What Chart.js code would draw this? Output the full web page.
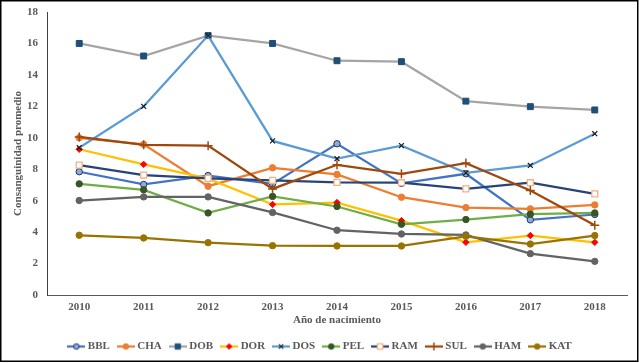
<!DOCTYPE html>
<html lang="es">
<head>
<meta charset="UTF-8">
<title>Consanguinidad promedio por año de nacimiento</title>
<script src="https://cdn.jsdelivr.net/npm/chart.js"></script>
<style>
  html, body { margin: 0; padding: 0; background: #fff; }
  #wrap { width: 639px; height: 363px; position: relative; }
</style>
</head>
<body>
<div id="wrap"><canvas id="chart" width="639" height="363"></canvas></div>
<script>
// data
const years = ['2010', '2011', '2012', '2013', '2014', '2015', '2016', '2017', '2018'];
const seriesNames = ['BBL', 'CHA', 'DOB', 'DOR', 'DOS', 'PEL', 'RAM', 'SUL', 'HAM', 'KAT'];
const bbl = [7.84, 7.03, 7.6, 7.07, 9.62, 7.1, 7.71, 4.78, 5.12];
const cha = [10.0, 9.58, 6.92, 8.09, 7.67, 6.22, 5.56, 5.48, 5.73];
const dob = [16.0, 15.2, 16.5, 16.0, 14.9, 14.84, 12.33, 11.98, 11.77];
const dor = [9.27, 8.31, 7.4, 5.76, 5.88, 4.73, 3.35, 3.78, 3.35];
const dos = [9.37, 12.0, 16.5, 9.8, 8.67, 9.5, 7.77, 8.24, 10.26];
const pel = [7.07, 6.69, 5.22, 6.27, 5.63, 4.5, 4.8, 5.14, 5.22];
const ram = [8.26, 7.63, 7.42, 7.29, 7.16, 7.14, 6.75, 7.14, 6.43];
const sul = [10.05, 9.55, 9.5, 6.75, 8.28, 7.71, 8.39, 6.65, 4.43];
const ham = [6.01, 6.24, 6.24, 5.25, 4.12, 3.88, 3.82, 2.63, 2.14];
const kat = [3.8, 3.63, 3.33, 3.14, 3.12, 3.12, 3.73, 3.24, 3.78];
const yTicks = [0, 2, 4, 6, 8, 10, 12, 14, 16, 18];

const values = [bbl, cha, dob, dor, dos, pel, ram, sul, ham, kat];

// line colour, marker style, marker fill, marker border
const styles = [
  { line: '#4472C4', shape: 'circle',   fill: '#8FAADC', edge: '#1F3864', r: 3.2, bw: 1 },
  { line: '#ED7D31', shape: 'circle',   fill: '#ED7D31', edge: '#ED7D31', r: 3.2, bw: 1 },
  { line: '#A5A5A5', shape: 'rect',     fill: '#1F4E79', edge: '#1F4E79', r: 4.2, bw: 1 },
  { line: '#FFC000', shape: 'rectRot',  fill: '#FF0000', edge: '#FF0000', r: 3.2, bw: 1 },
  { line: '#5B9BD5', shape: 'crossRot', fill: '#1A1A1A', edge: '#1A1A1A', r: 3.5, bw: 1.2 },
  { line: '#70AD47', shape: 'circle',   fill: '#375623', edge: '#375623', r: 3.2, bw: 1 },
  { line: '#264478', shape: 'rect',     fill: '#FFFFFF', edge: '#F4B183', r: 4.2, bw: 1.3 },
  { line: '#9E480E', shape: 'cross',    fill: '#9E480E', edge: '#9E480E', r: 4.5, bw: 1.5 },
  { line: '#636363', shape: 'circle',   fill: '#636363', edge: '#636363', r: 3.2, bw: 1 },
  { line: '#997300', shape: 'circle',   fill: '#997300', edge: '#997300', r: 3.2, bw: 1 }
];

const fontFam = '"Liberation Serif", "Times New Roman", serif';
const txtColor = '#595959';

// little line+marker picture for the legend, like Excel does
function legendSample(s) {
  const c = document.createElement('canvas');
  c.width = 18;
  c.height = 10;
  const g = c.getContext('2d');
  g.strokeStyle = s.line;
  g.lineWidth = 2.25;
  g.beginPath();
  g.moveTo(0, 5);
  g.lineTo(18, 5);
  g.stroke();
  g.fillStyle = s.fill;
  g.strokeStyle = s.edge;
  g.lineWidth = s.bw;
  Chart.helpers.drawPoint(g, { pointStyle: s.shape, radius: s.r - 0.4, rotation: 0, borderWidth: s.bw }, 9, 5);
  return c;
}

const datasets = seriesNames.map((name, i) => ({
  label: name,
  data: values[i],
  borderColor: styles[i].line,
  borderWidth: 2.25,
  backgroundColor: styles[i].fill,
  pointStyle: styles[i].shape,
  pointRadius: styles[i].r,
  pointBackgroundColor: styles[i].fill,
  pointBorderColor: styles[i].edge,
  pointBorderWidth: styles[i].bw,
  tension: 0,
  order: seriesNames.length - i
}));

const frame = {
  id: 'frame',
  afterLayout(chart) {
    // legend is centred on the whole width in the original
    chart.legend.left += 7.5;
    chart.legend.right += 7.5;
  },
  afterDraw(chart) {
    const ctx = chart.ctx;
    ctx.save();
    ctx.strokeStyle = '#000';
    ctx.lineWidth = 1.5;
    ctx.strokeRect(0.75, 0.75, 637, 360.5);
    ctx.restore();
  }
};

new Chart(document.getElementById('chart'), {
  type: 'line',
  data: { labels: years, datasets: datasets },
  plugins: [frame],
  options: {
    responsive: false,
    animation: false,
    layout: { padding: { top: 12, right: 12, bottom: 1, left: 0 } },
    plugins: {
      tooltip: { enabled: false },
      legend: {
        position: 'bottom',
        labels: {
          usePointStyle: true,
          pointStyleWidth: 12,
          padding: 10,
          color: txtColor,
          font: { family: fontFam, size: 11, weight: 'bold' },
          generateLabels(chart) {
            return seriesNames.map((name, i) => ({
              text: name,
              datasetIndex: i,
              pointStyle: legendSample(styles[i]),
              fillStyle: styles[i].fill,
              strokeStyle: styles[i].line,
              lineWidth: 0,
              hidden: false,
              fontColor: txtColor
            }));
          }
        }
      }
    },
    scales: {
      x: {
        offset: true,
        grid: { display: false, drawTicks: false },
        border: { display: true, color: '#595959', width: 1 },
        ticks: {
          color: txtColor,
          padding: 6,
          maxRotation: 0,
          font: { family: fontFam, size: 11, weight: 'bold' }
        },
        title: {
          display: true,
          text: 'Año de nacimiento',
          color: txtColor,
          padding: { top: 2, bottom: 4 },
          font: { family: fontFam, size: 11, weight: 'bold' }
        },
        afterFit(scale) { scale.height = 36; }
      },
      y: {
        min: 0,
        max: 18,
        grid: { display: false, drawTicks: false },
        border: { display: true, color: '#404040', width: 1 },
        afterBuildTicks(scale) { scale.ticks = yTicks.map(v => ({ value: v })); },
        ticks: {
          color: txtColor,
          padding: 9,
          font: { family: fontFam, size: 11, weight: 'bold' }
        },
        title: {
          display: true,
          text: 'Consanguinidad promedio',
          color: txtColor,
          padding: { top: 12, bottom: 0 },
          font: { family: fontFam, size: 11, weight: 'bold' }
        },
        afterFit(scale) {
          scale.width = 47;
          scale.paddingTop = 6;
          scale.paddingBottom = 6;
        }
      }
    }
  }
});
</script>
</body>
</html>
